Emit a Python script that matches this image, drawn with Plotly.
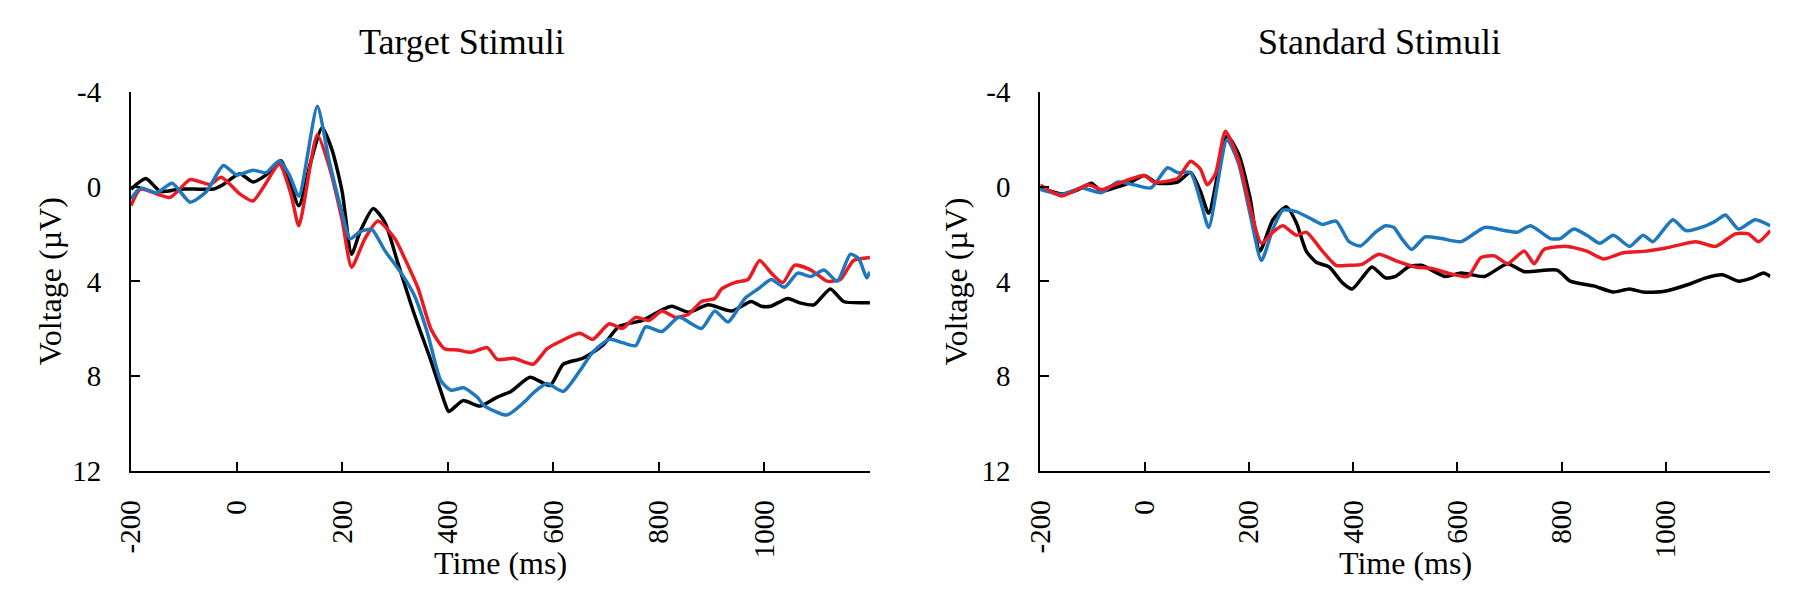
import plotly.graph_objects as go

# ---------------- data ----------------
# Target stimuli
tgt_black_t = [-200, -172, -144, -110, -70, -44, -25, 6, 31, 56, 84, 118, 140, 162, 181, 200, 218, 234, 259, 281, 306, 337, 369, 394, 402, 429, 461, 493, 520, 556, 594, 619, 656, 694, 725, 769, 806, 825, 856, 894, 938, 975, 994, 1012, 1044, 1069, 1094, 1125, 1150, 1200]
tgt_black_v = [0.1, -0.35, 0.2, 0.1, 0.1, 0.1, -0.1, -0.55, -0.2, -0.5, -1.1, 0.8, -1.0, -2.5, -1.55, 0.2, 2.85, 1.9, 0.92, 1.5, 3.25, 5.4, 7.4, 9.1, 9.5, 9.04, 9.27, 8.9, 8.65, 8.05, 8.4, 7.5, 7.25, 6.7, 5.9, 5.65, 5.2, 5.05, 5.3, 4.99, 5.25, 4.85, 5.05, 5.05, 4.72, 4.92, 4.99, 4.32, 4.85, 4.9]

tgt_red_t = [-200, -182, -126, -88, -50, -29, 6, 31, 50, 81, 103, 118, 153, 175, 200, 218, 243, 268, 300, 318, 344, 369, 394, 419, 444, 475, 494, 525, 562, 588, 612, 650, 675, 706, 731, 756, 781, 806, 831, 856, 881, 906, 919, 944, 969, 991, 1013, 1035, 1057, 1088, 1119, 1144, 1169, 1200]
tgt_red_v = [0.8, 0.1, 0.45, -0.3, -0.1, -0.4, 0.3, 0.6, 0.05, -0.95, 0.3, 1.65, -2.2, -0.9, 1.4, 3.4, 2.2, 1.45, 2.2, 3.0, 4.3, 6.05, 6.85, 6.9, 7.0, 6.8, 7.3, 7.25, 7.5, 6.85, 6.55, 6.19, 6.45, 5.79, 5.99, 5.52, 5.65, 5.25, 5.52, 5.39, 4.85, 4.72, 4.32, 4.05, 3.92, 3.12, 3.65, 4.05, 3.32, 3.52, 3.99, 3.92, 3.12, 2.99]

tgt_blue_t = [-200, -182, -151, -122, -88, -57, -25, 0, 31, 56, 81, 100, 118, 153, 175, 200, 215, 234, 256, 281, 312, 337, 362, 387, 406, 431, 456, 469, 512, 544, 562, 588, 619, 650, 675, 706, 731, 756, 775, 806, 838, 881, 906, 931, 963, 988, 1013, 1038, 1063, 1088, 1113, 1138, 1163, 1179, 1194, 1200]
tgt_blue_v = [0.52, 0.05, 0.25, -0.15, 0.65, 0.2, -0.9, -0.5, -0.7, -0.6, -1.1, -0.5, 0.4, -3.4, -1.15, 1.1, 2.2, 1.9, 1.8, 2.7, 3.65, 4.6, 6.2, 8.2, 8.6, 8.5, 8.9, 9.25, 9.65, 9.12, 8.72, 8.32, 8.65, 7.79, 6.99, 6.45, 6.59, 6.72, 5.92, 6.12, 5.52, 5.99, 5.25, 5.72, 4.72, 4.32, 3.92, 4.25, 3.65, 3.79, 3.52, 3.99, 2.85, 3.05, 3.85, 3.59]

# Standard stimuli
std_black_t = [-200, -159, -127, -102, -83, -58, -26, -1, 25, 63, 88, 107, 123, 158, 180, 202, 221, 246, 272, 291, 310, 329, 354, 379, 398, 417, 436, 462, 481, 506, 531, 576, 607, 652, 696, 728, 791, 816, 861, 899, 930, 956, 994, 1044, 1076, 1108, 1139, 1165, 1187, 1200]
std_black_v = [0.05, 0.3, 0.12, -0.15, 0.19, 0.05, -0.2, -0.48, -0.15, -0.2, -0.6, 0.19, 1.12, -2.15, -1.4, 0.45, 2.72, 1.39, 0.85, 1.52, 2.72, 3.19, 3.39, 4.05, 4.32, 3.85, 3.39, 3.85, 3.79, 3.39, 3.32, 3.79, 3.65, 3.79, 3.25, 3.59, 3.52, 3.99, 4.19, 4.45, 4.32, 4.45, 4.43, 4.12, 3.85, 3.72, 3.99, 3.85, 3.65, 3.79]

std_red_t = [-200, -159, -108, -83, -58, -1, 18, 63, 88, 107, 120, 136, 155, 180, 202, 224, 246, 265, 291, 310, 341, 367, 392, 417, 449, 481, 519, 550, 582, 620, 645, 671, 696, 728, 747, 766, 810, 848, 880, 918, 962, 1000, 1057, 1095, 1133, 1158, 1177, 1200]
std_red_v = [-0.08, 0.39, -0.08, 0.12, -0.08, -0.48, -0.2, -0.35, -1.08, -0.75, -0.08, -0.55, -2.35, -1.15, 0.85, 2.39, 1.92, 1.65, 2.05, 1.92, 2.72, 3.32, 3.32, 3.28, 2.85, 3.12, 3.39, 3.45, 3.65, 3.79, 2.99, 2.92, 3.25, 2.72, 3.25, 2.65, 2.52, 2.72, 3.05, 2.79, 2.72, 2.59, 2.32, 2.52, 1.99, 1.99, 2.32, 1.85]

std_blue_t = [-200, -159, -121, -83, -51, -20, 12, 44, 63, 88, 107, 123, 158, 180, 202, 224, 246, 265, 291, 322, 341, 367, 392, 414, 443, 462, 478, 493, 512, 538, 569, 607, 652, 690, 715, 740, 778, 797, 823, 848, 873, 899, 930, 956, 975, 1013, 1038, 1076, 1095, 1114, 1139, 1171, 1200]
std_blue_v = [0.12, 0.32, 0.05, 0.25, -0.2, -0.08, 0.05, -0.8, -0.6, -0.6, 0.59, 1.72, -2.0, -1.0, 1.12, 3.12, 1.79, 0.99, 1.05, 1.39, 1.59, 1.45, 2.32, 2.5, 1.92, 1.65, 1.72, 2.19, 2.65, 2.12, 2.19, 2.32, 1.72, 1.85, 1.92, 1.65, 2.19, 2.19, 1.79, 2.05, 2.39, 2.05, 2.52, 2.05, 2.32, 1.39, 1.85, 1.65, 1.45, 1.19, 1.79, 1.39, 1.65]

x_tickvals = [-200, 0, 200, 400, 600, 800, 1000, 1200]
x_ticktext = ["-200", "0", "200", "400", "600", "800", "1000", ""]
y_tickvals = [-4, 0, 4, 8, 12]
y_ticktext = ["-4", "0", "4", "8", "12"]

panel_titles = ["Target Stimuli", "Standard Stimuli"]
x_title = "Time (ms)"
y_title = "Voltage (µV)"

BLACK = "#000000"
RED = "#ea1b22"
BLUE = "#1f78be"

W, H = 1800, 596
FONT = "Liberation Serif"

def px_x(p):
    return p / W

def px_y(p):
    return 1 - p / H

fig = go.Figure()

series = [
    ("x", "y", tgt_black_t, tgt_black_v, BLACK),
    ("x", "y", tgt_red_t, tgt_red_v, RED),
    ("x", "y", tgt_blue_t, tgt_blue_v, BLUE),
    ("x2", "y2", std_black_t, std_black_v, BLACK),
    ("x2", "y2", std_blue_t, std_blue_v, BLUE),
    ("x2", "y2", std_red_t, std_red_v, RED),
]
for xa, ya, t, v, c in series:
    fig.add_trace(go.Scatter(x=t, y=v, xaxis=xa, yaxis=ya, mode="lines",
                             line=dict(color=c, width=3.5, shape="spline", smoothing=0.6),
                             showlegend=False, hoverinfo="skip"))

y_dom = [px_y(472), px_y(72)]
common_x = dict(range=[-200, 1200], tickmode="array", tickvals=x_tickvals, ticktext=x_ticktext,
                tickangle=-90, ticks="inside", ticklen=9, tickwidth=2, tickcolor="black",
                showline=True, linecolor="black", linewidth=2, showgrid=False, zeroline=False,
                tickfont=dict(family=FONT, size=29, color="black"), ticklabelstandoff=16)
common_y = dict(range=[12, -4], tickmode="array", tickvals=y_tickvals, ticktext=y_ticktext,
                ticks="inside", ticklen=9, tickwidth=2, tickcolor="black",
                showline=True, linecolor="black", linewidth=2, showgrid=False, zeroline=False,
                tickfont=dict(family=FONT, size=29, color="black"), ticklabelstandoff=22,
                domain=y_dom)

fig.update_layout(
    width=W, height=H, margin=dict(l=0, r=0, t=0, b=0),
    paper_bgcolor="white", plot_bgcolor="white",
    xaxis=dict(domain=[px_x(107), px_x(853)], anchor="y", **common_x),
    yaxis=dict(anchor="x", **common_y),
    xaxis2=dict(domain=[px_x(1025), px_x(1762)], anchor="y2", **common_x),
    yaxis2=dict(anchor="x2", **common_y),
)

ann = []
for xc, txt in [(441, panel_titles[0]), (1367, panel_titles[1])]:
    ann.append(dict(x=px_x(xc), y=px_y(19), xref="paper", yref="paper", text=txt, showarrow=False,
                    xanchor="center", yanchor="middle", font=dict(family=FONT, size=36, color="black")))
for xc in [480, 1394]:
    ann.append(dict(x=px_x(xc), y=px_y(570), xref="paper", yref="paper", text=x_title, showarrow=False,
                    xanchor="center", yanchor="middle", font=dict(family=FONT, size=32, color="black")))
for xc in [26, 940]:
    ann.append(dict(x=px_x(xc), y=px_y(272), xref="paper", yref="paper", text=y_title, showarrow=False,
                    textangle=-90, xanchor="center", yanchor="middle", font=dict(family=FONT, size=32, color="black")))
fig.update_layout(annotations=ann)

fig.write_html("out.html")
